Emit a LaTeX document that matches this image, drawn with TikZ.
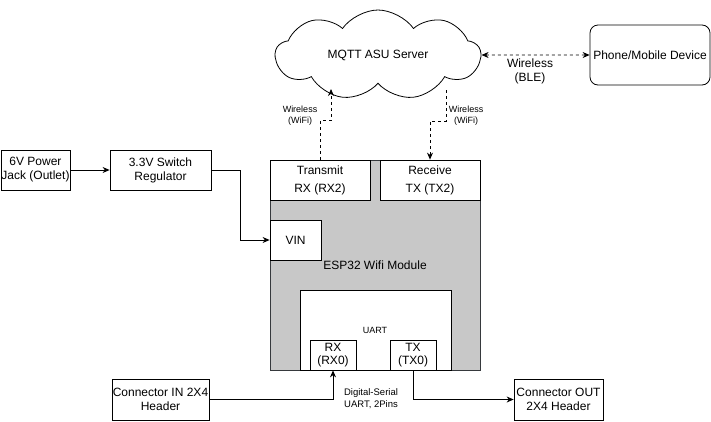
\documentclass[tikz,border=0pt]{standalone}
\usepackage{fontspec}
\setmainfont{Liberation Sans}
\usetikzlibrary{shapes.symbols,arrows.meta}
\definecolor{espfill}{RGB}{200,200,200}
\definecolor{espline}{RGB}{54,57,61}

\begin{document}
\begin{tikzpicture}[x=1pt,y=-1pt,line width=0.8pt]
        \tikzstyle{every node}=[font=\fontsize{12}{14}\selectfont,align=center,inner sep=0pt]
        \tikzstyle{block}=[draw,fill=white,minimum width=100pt,minimum height=40pt]
        \tikzstyle{note}=[font=\fontsize{9}{11}\selectfont]
        \tikzstyle{link}=[-{Stealth[length=7pt,width=6pt]}]
        \tikzstyle{wifi}=[link,dashed]
        \useasboundingbox (0,0) rectangle (711,421);
        % power side
        \node[block,minimum width=69pt] (jack) at (35.5,170) {6V Power\\Jack (Outlet)};
        \node[block,minimum width=101pt] (reg) at (160.5,170) {3.3V Switch\\Regulator};
        % module
        \node[draw=espline,fill=espfill,minimum width=210pt,minimum height=210pt,anchor=north west] (esp) at (270,160) {};
        \node (esplbl) at (375,265) {ESP32 Wifi Module};
        \node[block,font=\fontsize{12}{18}\selectfont] (tm) at (320,180) {Transmit\\RX (RX2)};
        \node[block,font=\fontsize{12}{18}\selectfont] (rc) at (430,180) {Receive\\TX (TX2)};
        \node[block,minimum width=51pt] (vin) at (295.5,240) {VIN};
        \node[block,minimum width=151pt,minimum height=80pt,anchor=north west] (uart) at (300,290) {};
        \node[note] (uartlbl) at (375,330) {UART};
        \node[block,minimum width=46pt,minimum height=30pt,font=\fontsize{12}{13.5}\selectfont] (rx) at (333,355) {RX\\(RX0)};
        \node[block,minimum width=46pt,minimum height=30pt,font=\fontsize{12}{13.5}\selectfont] (tx) at (413,355) {TX\\(TX0)};
        % headers
        \node[block,minimum width=97pt,minimum height=41pt] (cin) at (160.5,399.5) {Connector IN 2X4\\Header};
        \node[block,minimum width=89pt,minimum height=41pt] (cout) at (558.5,399.5) {Connector OUT\\2X4 Header};
        % server and phone
        \node[draw,cloud,cloud puffs=9,cloud puff arc=110,cloud ignores aspect,minimum width=205pt,minimum height=90pt] (srv) at (378,55) {MQTT ASU Server};
        \node[block,rounded corners=8pt,minimum width=120pt,minimum height=60pt] (phone) at (650,55) {Phone/Mobile Device};
        \coordinate (wl) at (331,89);
        \coordinate (wr) at (446,90);
        % connectors
        \draw[link] (jack) -- (reg);
        \draw[link] (reg.east) -- ++(29,0) |- (vin.west);
        \draw[link] (cin.east) -| (rx.south);
        \draw[link] (tx.south) |- (cout.west);
        \draw[dashed,{Stealth[length=7pt,width=6pt]}-{Stealth[length=7pt,width=6pt]}] (srv.east) -- (phone.west);
        \draw[wifi] (tm.north) -- ++(0,-39) -| (wl);
        \draw[wifi] (wr) -- ++(0,31) -| (rc.north);
        % labels
        \node (blelbl) at (530,71) {Wireless\\(BLE)};
        \node[note] (wifil) at (300,116) {Wireless\\(WiFi)};
        \node[note] (wifir) at (466,116) {Wireless\\(WiFi)};
        \node[note,font=\fontsize{9.5}{12}\selectfont] (serlbl) at (371,399) {Digital-Serial\\UART, 2Pins};
\end{tikzpicture}
\end{document}
